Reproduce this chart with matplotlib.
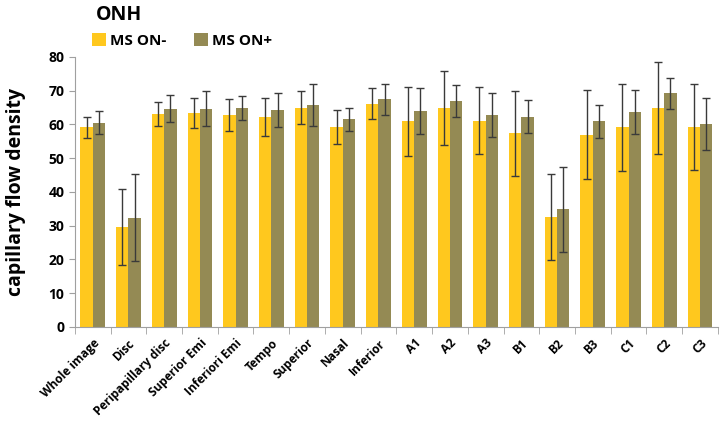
import numpy as np
import matplotlib.pyplot as plt

plt.rcParams['font.family'] = ['Open Sans', 'DejaVu Sans']

categories = ['Whole image', 'Disc', 'Peripapillary disc', 'Superior Emi', 'Inferiori Emi',
              'Tempo', 'Superior', 'Nasal', 'Inferior', 'A1', 'A2', 'A3',
              'B1', 'B2', 'B3', 'C1', 'C2', 'C3']
on_neg = [59.1, 29.5, 63.1, 63.4, 62.8, 62.1, 65.0, 59.3, 66.1, 60.9, 64.8, 61.1,
          57.4, 32.5, 57.0, 59.1, 64.9, 59.3]
on_neg_sd = [3.2, 11.3, 3.6, 4.5, 4.8, 5.6, 4.9, 5.1, 4.6, 10.3, 11.0, 9.9,
             12.6, 12.7, 13.1, 13.0, 13.7, 12.8]
on_pos = [60.5, 32.4, 64.7, 64.6, 64.9, 64.3, 65.7, 61.5, 67.4, 63.9, 67.0, 62.7,
          62.3, 34.8, 60.9, 63.8, 69.2, 60.1]
on_pos_sd = [3.4, 13.0, 4.1, 5.2, 3.6, 5.0, 6.2, 3.5, 4.7, 6.8, 4.7, 6.5,
             4.9, 12.6, 4.8, 6.5, 4.7, 7.7]

fig = plt.figure(figsize=(7.2, 4.25), dpi=100)
ax = fig.add_axes([0.104, 0.231, 0.893, 0.635])

x = np.arange(len(categories))
w = 0.345
err_kw = dict(ecolor='#3a3a3a', elinewidth=1, capsize=3, capthick=1)
ax.bar(x - w / 2, on_neg, w, yerr=on_neg_sd, color='#FFC81E', label='MS ON-', error_kw=err_kw)
ax.bar(x + w / 2, on_pos, w, yerr=on_pos_sd, color='#948A54', label='MS ON+', error_kw=err_kw)

ax.set_xlim(-0.5, len(categories) - 0.5)
ax.set_ylim(0, 80)
ax.set_yticks(range(0, 81, 10))
ax.set_xticks(x)
ax.set_xticklabels(categories, rotation=45, ha='right', rotation_mode='anchor',
                   fontsize=8.6, fontweight='bold')
ax.set_xticks(np.arange(-0.5, len(categories), 1), minor=True)
ax.tick_params(axis='x', which='major', length=0, pad=7)
ax.tick_params(axis='x', which='minor', length=5, color='#a0a0a0')
ax.tick_params(axis='y', length=4, color='#a0a0a0', labelsize=10)
for lbl in ax.get_yticklabels():
    lbl.set_fontweight('bold')

for s in ['top', 'right']:
    ax.spines[s].set_visible(False)
for s in ['left', 'bottom']:
    ax.spines[s].set_color('#a0a0a0')

ax.set_ylabel('capillary flow density', fontsize=14, fontweight='bold', labelpad=16)

fig.text(0.133, 0.965, 'ONH', fontsize=14, fontweight='bold', va='center')
ax.legend(loc='lower left', bbox_to_anchor=(0.012, 1.0), ncol=2, frameon=False,
          prop={'weight': 'bold', 'size': 11}, handlelength=0.9, handleheight=0.9,
          columnspacing=1.8, handletextpad=0.3, borderaxespad=0.2)

fig.savefig('out.png', dpi=100)
